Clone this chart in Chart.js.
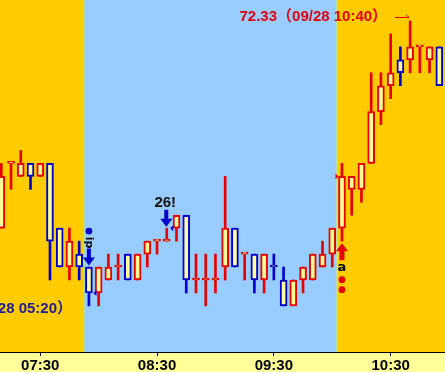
<!DOCTYPE html>
<html><head><meta charset="utf-8">
<script src="https://cdn.jsdelivr.net/npm/chart.js@4/dist/chart.umd.min.js"></script>
<style>html,body{margin:0;padding:0;background:#FFFF99;overflow:hidden}canvas{display:block}</style>
</head><body>
<canvas id="c" width="445" height="372"></canvas>
<script>
// ---- data (5-minute candles) ----
const times = ['07:10','07:15','07:20','07:25','07:30','07:35','07:40','07:45','07:50','07:55',
  '08:00','08:05','08:10','08:15','08:20','08:25','08:30','08:35','08:40','08:45',
  '08:50','08:55','09:00','09:05','09:10','09:15','09:20','09:25','09:30','09:35',
  '09:40','09:45','09:50','09:55','10:00','10:05','10:10','10:15','10:20','10:25',
  '10:30','10:35','10:40','10:45','10:50','10:55'];
const opens  = [72.17,72.22,72.21,72.22,72.21,72.22,72.17,72.14,72.15,72.14,
  72.12,72.13,72.14,72.15,72.13,72.15,72.16,72.16,72.17,72.18,
  72.13,72.13,72.13,72.14,72.17,72.15,72.15,72.13,72.14,72.13,
  72.11,72.13,72.13,72.14,72.15,72.17,72.20,72.20,72.22,72.26,
  72.28,72.30,72.30,72.31,72.30,72.31];
const highs  = [72.22,72.22,72.23,72.22,72.22,72.22,72.17,72.17,72.16,72.14,
  72.14,72.15,72.15,72.15,72.15,72.16,72.16,72.17,72.18,72.18,
  72.15,72.15,72.15,72.21,72.17,72.15,72.15,72.15,72.15,72.14,
  72.13,72.14,72.15,72.16,72.17,72.22,72.21,72.22,72.29,72.29,
  72.32,72.31,72.33,72.31,72.31,72.31];
const lows   = [72.17,72.20,72.21,72.20,72.21,72.13,72.14,72.13,72.13,72.11,
  72.11,72.13,72.13,72.13,72.13,72.14,72.15,72.16,72.16,72.12,
  72.12,72.11,72.12,72.13,72.14,72.13,72.12,72.12,72.13,72.11,
  72.11,72.12,72.13,72.14,72.14,72.16,72.18,72.19,72.22,72.25,
  72.27,72.28,72.29,72.29,72.29,72.28];
const closes = [72.21,72.22,72.22,72.21,72.22,72.16,72.14,72.16,72.14,72.12,
  72.14,72.14,72.14,72.13,72.15,72.16,72.16,72.16,72.18,72.13,
  72.13,72.13,72.13,72.17,72.14,72.15,72.13,72.15,72.14,72.11,
  72.13,72.14,72.15,72.15,72.17,72.21,72.21,72.22,72.26,72.28,
  72.29,72.29,72.31,72.31,72.31,72.28];
const tickLabels = ['07:30','08:30','09:30','10:30'];
const daySession = ['07:55','10:00'];          // first / last candle of the blue session
const highMark = {time:'10:40', price:72.33, text:'72.33（09/28 10:40）'};
const lowMark  = {price:72.10, text:'72.10（09/28 05:20）'};
const signals = [
  {time:'07:55', kind:'sell',  arrowAt:72.14, markAt:72.12, glyph:'ip'},
  {time:'08:35', kind:'count', arrowAt:72.17, markAt:72.17, text:'26!'},
  {time:'10:05', kind:'buy',   arrowAt:72.16, markAt:72.21, glyph:'a'}
];

// ---- helpers ----
const toMin = s => { const [h,m] = s.split(':').map(Number); return h*60+m; };
const RED = '#E60000', BLUE = '#0000CC', BODY = '#FFFF99';
const dir = times.map((t,i) => {
  if (closes[i] > opens[i]) return 1;
  if (closes[i] < opens[i]) return -1;
  return (i > 0 && closes[i] < closes[i-1]) ? -1 : 1;
});
const col = dir.map(d => d > 0 ? RED : BLUE);

const bgPlugin = {
  id:'bg',
  beforeDraw(chart){
    const {ctx, chartArea:a, scales:{x}} = chart;
    ctx.save();
    ctx.fillStyle = '#FFFF99';
    ctx.fillRect(0,0,chart.width,chart.height);
    ctx.fillStyle = '#FFCC00';
    ctx.fillRect(a.left,a.top,a.right-a.left,a.bottom-a.top);
    const x0 = x.getPixelForValue(toMin(daySession[0]) - 2.5);
    const x1 = x.getPixelForValue(toMin(daySession[1]) + 2.5);
    ctx.fillStyle = '#99CCFF';
    ctx.fillRect(x0,a.top,x1-x0,a.bottom-a.top);
    ctx.fillStyle = '#AAEE66';
    ctx.fillRect(Math.round(x0)-0.5,a.top,1,a.bottom-a.top);
    ctx.fillStyle = '#DDEE55';
    ctx.fillRect(Math.round(x1)-0.5,a.top,1,a.bottom-a.top);
    ctx.restore();
  }
};

function downArrow(ctx, x, tip, color){
  ctx.fillStyle = color;
  ctx.beginPath();
  ctx.moveTo(x, tip); ctx.lineTo(x-6, tip-8); ctx.lineTo(x-2, tip-8);
  ctx.lineTo(x-2, tip-17); ctx.lineTo(x+2, tip-17); ctx.lineTo(x+2, tip-8);
  ctx.lineTo(x+6, tip-8); ctx.closePath(); ctx.fill();
}
function upArrow(ctx, x, tip, color){
  ctx.fillStyle = color;
  ctx.beginPath();
  ctx.moveTo(x, tip); ctx.lineTo(x-6, tip+8); ctx.lineTo(x-2.5, tip+8);
  ctx.lineTo(x-2.5, tip+17); ctx.lineTo(x+2.5, tip+17); ctx.lineTo(x+2.5, tip+8);
  ctx.lineTo(x+6, tip+8); ctx.closePath(); ctx.fill();
}
function dot(ctx,x,y,color){ ctx.fillStyle=color; ctx.beginPath(); ctx.arc(x,y,3.4,0,Math.PI*2); ctx.fill(); }
function tri(ctx,x,y,dirn,color){
  ctx.fillStyle=color; ctx.beginPath();
  ctx.moveTo(x,y); ctx.lineTo(x-3*dirn,y-3); ctx.lineTo(x-3*dirn,y+3); ctx.closePath(); ctx.fill();
}

const annoPlugin = {
  id:'anno',
  afterDatasetsDraw(chart){
    const {ctx, chartArea:a, scales:{x,y}} = chart;
    ctx.save();
    ctx.font = "bold 15px 'Liberation Sans', 'Noto Sans CJK JP', sans-serif";
    // high label
    const hx = x.getPixelForValue(toMin(highMark.time));
    const hy = y.getPixelForValue(highMark.price);
    ctx.fillStyle = '#E00010';
    ctx.textAlign = 'right'; ctx.textBaseline = 'alphabetic';
    ctx.fillText(highMark.text, hx-23, hy+0.5);
    ctx.strokeStyle = RED; ctx.lineWidth = 1;
    ctx.beginPath();
    ctx.moveTo(hx-15, hy-3.5); ctx.lineTo(hx-1, hy-3.5);
    ctx.moveTo(hx-1, hy-3.5); ctx.lineTo(hx-4, hy-6);
    ctx.stroke();
    // low label (time off-screen to the left)
    ctx.fillStyle = '#1C1C9C';
    ctx.textAlign = 'right';
    ctx.fillText(lowMark.text, a.left+72, y.getPixelForValue(lowMark.price)-6);
    // signals
    signals.forEach(s => {
      const sx = x.getPixelForValue(toMin(s.time));
      const ay = y.getPixelForValue(s.arrowAt);
      const my = y.getPixelForValue(s.markAt);
      if (s.kind === 'sell') {
        downArrow(ctx, sx, ay-1.5, BLUE);
        dot(ctx, sx, ay-36, BLUE);
        ctx.save();
        ctx.translate(sx, ay-24.5); ctx.rotate(Math.PI/2);
        ctx.font = "bold 11px 'DejaVu Sans'"; ctx.fillStyle = '#000';
        ctx.textAlign='center'; ctx.textBaseline='middle';
        ctx.fillText(s.glyph, 0, 0);
        ctx.restore();
        tri(ctx, sx+4.5, my, -1, BLUE);
      } else if (s.kind === 'count') {
        downArrow(ctx, sx-0.5, ay-1.5, BLUE);
        ctx.fillStyle = '#111';
        ctx.textAlign='center'; ctx.textBaseline='alphabetic';
        ctx.fillText(s.text, sx-1.5, ay-21.5);
        tri(ctx, sx+3.5, my, -1, BLUE);
      } else {
        upArrow(ctx, sx, ay+2, RED);
        ctx.font = "bold 13px 'DejaVu Sans'"; ctx.fillStyle = '#000';
        ctx.textAlign='center'; ctx.textBaseline='middle';
        ctx.fillText(s.glyph, sx, ay+26);
        dot(ctx, sx, ay+38.5, RED);
        dot(ctx, sx, ay+48.5, RED);
        tri(ctx, sx-3.5, my, 1, RED);
        ctx.font = "bold 15px 'Liberation Sans', 'Noto Sans CJK JP', sans-serif";
      }
    });
    ctx.restore();
  }
};

const xs = times.map(toMin);
new Chart(document.getElementById('c'), {
  type:'bar',
  data:{
    datasets:[
      { label:'body', order:0, grouped:false,
        data: xs.map((v,i)=>({x:v, y:[opens[i], closes[i]]})),
        backgroundColor: BODY, borderColor: col, borderWidth:2, borderSkipped:false,
        barThickness:7, minBarLength:2 },
      { label:'wick', order:1, grouped:false,
        data: xs.map((v,i)=>({x:v, y:[lows[i], highs[i]]})),
        backgroundColor: col, borderWidth:0, barThickness:2 }
    ]
  },
  options:{
    responsive:false, animation:false, devicePixelRatio:1,
    layout:{padding:0},
    plugins:{legend:{display:false}, tooltip:{enabled:false}},
    events:[],
    scales:{
      x:{ type:'linear', position:'bottom', offset:false, bounds:'data',
        min: xs[0]-0.67, max: xs[xs.length-1]+2.92,
        afterBuildTicks: s => { s.ticks = tickLabels.map(t => ({value: toMin(t)})); },
        afterFit: s => { s.height = 20; },
        ticks:{ callback:(v,i)=>tickLabels[i], color:'#000', padding:1, maxRotation:0, autoSkip:false,
          font:{family:"'Liberation Sans'", weight:'bold', size:15} },
        grid:{ display:true, offset:false, drawOnChartArea:false, drawTicks:true, tickLength:4, color:'#000', lineWidth:1 },
        border:{ display:true, color:'#000', width:1 }
      },
      y:{ display:false, min:72.0744, max:72.3462 }
    }
  },
  plugins:[bgPlugin, annoPlugin]
});
</script>
</body></html>
